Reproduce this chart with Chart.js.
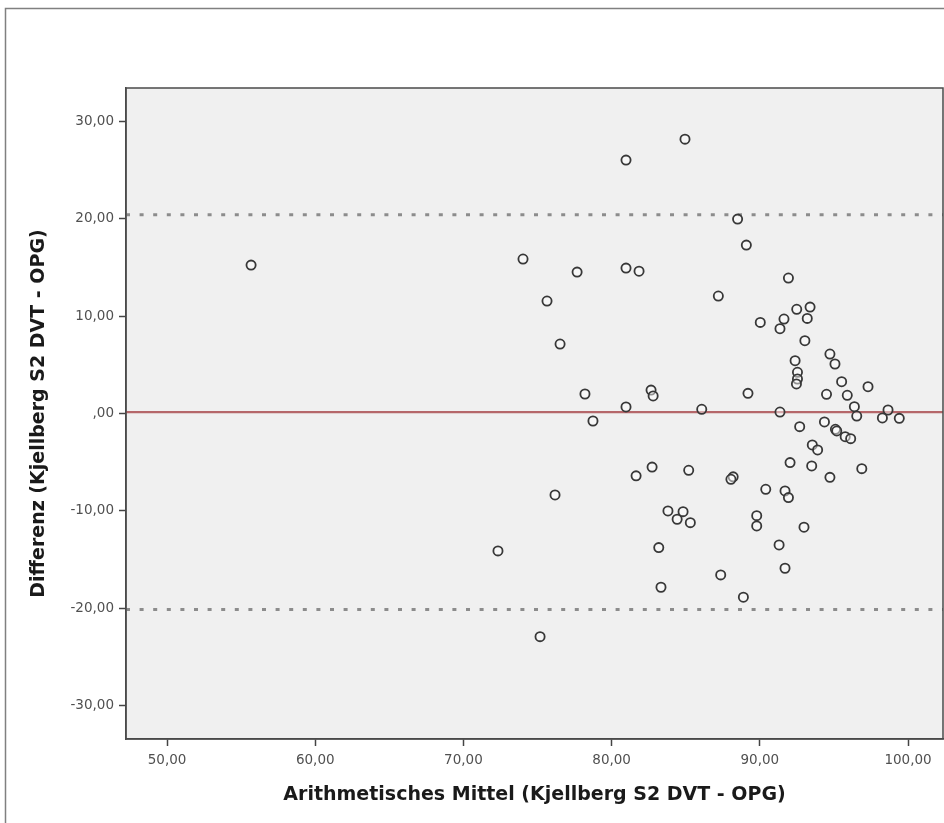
<!DOCTYPE html>
<html>
<head>
<meta charset="utf-8">
<script src="https://cdn.jsdelivr.net/npm/chart.js@4"></script>
<style>
  html, body { margin: 0; padding: 0; background: #fff; }
  #wrap { width: 944px; height: 823px; }
</style>
</head>
<body>
<div id="wrap"><canvas id="baChart" width="944" height="823"></canvas></div>
<script>
// Bland-Altman: Mittelwert vs. Differenz (Kjellberg S2 DVT - OPG)
const meanVals = [
  55.67, 74.02, 75.64, 77.67, 76.52, 78.20, 78.74, 76.18, 72.33, 75.17,
  80.97, 84.95, 80.97, 81.85, 80.97, 82.66, 82.80, 81.65, 82.73, 83.80,
  84.42, 84.82, 85.31, 83.18, 83.33, 85.20, 86.08, 87.20, 88.50, 89.09,
  91.93, 92.49, 93.39, 93.20, 90.03, 91.63, 91.36, 93.04, 94.73, 95.07,
  92.38, 92.54, 92.54, 92.47, 95.52, 97.30, 94.50, 95.90, 89.20, 96.38,
  96.54, 98.65, 98.27, 99.41, 91.36, 92.69, 94.36, 95.10, 95.19, 95.76,
  96.13, 93.54, 93.90, 92.04, 93.50, 94.73, 96.88, 88.20, 88.05, 90.40,
  91.70, 91.93, 89.79, 89.79, 92.98, 91.30, 91.70, 87.36, 88.89
];
const diffVals = [
  15.23, 15.85, 11.54, 14.51, 7.13, 2.00, -0.77, -8.36, -14.10, -22.90,
  26.00, 28.15, 14.92, 14.60, 0.67, 2.40, 1.80, -6.40, -5.50, -10.00,
  -10.85, -10.07, -11.20, -13.76, -17.83, -5.83, 0.43, 12.05, 19.95, 17.28,
  13.90, 10.69, 10.92, 9.76, 9.35, 9.69, 8.70, 7.47, 6.10, 5.08,
  5.42, 4.23, 3.54, 3.03, 3.26, 2.75, 1.97, 1.87, 2.07, 0.70,
  -0.26, 0.36, -0.46, -0.50, 0.15, -1.35, -0.87, -1.62, -1.79, -2.38,
  -2.58, -3.23, -3.74, -5.04, -5.38, -6.55, -5.66, -6.50, -6.75, -7.78,
  -7.95, -8.63, -10.48, -11.54, -11.67, -13.49, -15.88, -16.56, -18.85
];

// Mittlere Differenz und Übereinstimmungsgrenzen
const meanDiff = 0.15;
const upperLimit = 20.4;
const lowerLimit = -20.1;

const xTicks = [50, 60, 70, 80, 90, 100];
const yTicks = [-30, -20, -10, 0, 10, 20, 30];
const xMin = 47.23, xMax = 102.36;
const yMin = -33.4, yMax = 33.4;

const xTitle = 'Arithmetisches Mittel (Kjellberg S2 DVT - OPG)';
const yTitle = 'Differenz (Kjellberg S2 DVT - OPG)';

// SPSS-Format: 30,00 / ,00
function fmt(v) {
  if (v === 0) return ',00';
  return v.toFixed(2).replace('.', ',');
}

const points = meanVals.map((m, i) => ({ x: m, y: diffVals[i] }));
const hLine = y => [{ x: xMin, y: y }, { x: xMax, y: y }];

const frame = {
  id: 'frame',
  beforeDraw(chart) {
    const { ctx, chartArea: a, width, height } = chart;
    ctx.save();
    ctx.fillStyle = '#fff';
    ctx.fillRect(0, 0, width, height);
    // äußerer Rahmen
    ctx.strokeStyle = '#808080';
    ctx.lineWidth = 1.5;
    ctx.beginPath();
    ctx.moveTo(5.5, height);
    ctx.lineTo(5.5, 8.5);
    ctx.lineTo(width, 8.5);
    ctx.stroke();
    ctx.fillStyle = '#f0f0f0';
    ctx.fillRect(a.left, a.top, a.right - a.left, a.bottom - a.top);
    ctx.restore();
  },
  afterDraw(chart) {
    const { ctx, chartArea: a } = chart;
    ctx.save();
    ctx.strokeStyle = '#4a4a4a';
    ctx.lineWidth = 1.5;
    ctx.strokeRect(a.left, a.top, a.right - a.left, a.bottom - a.top);
    ctx.restore();
  }
};

new Chart(document.getElementById('baChart'), {
  type: 'scatter',
  data: {
    datasets: [
      {
        label: 'Punkte',
        data: points,
        pointRadius: 4.6,
        pointBorderWidth: 1.8,
        pointBorderColor: '#383838',
        pointBackgroundColor: 'rgba(255,255,255,0.45)',
        order: 1
      },
      {
        type: 'line',
        label: 'Mittelwert',
        data: hLine(meanDiff),
        borderColor: '#b5676a',
        borderWidth: 2.2,
        pointRadius: 0,
        order: 2
      },
      {
        type: 'line',
        label: 'Obere Grenze',
        data: hLine(upperLimit),
        borderColor: '#8c8c8c',
        borderWidth: 3,
        borderDash: [4, 9.6],
        pointRadius: 0,
        order: 3
      },
      {
        type: 'line',
        label: 'Untere Grenze',
        data: hLine(lowerLimit),
        borderColor: '#8c8c8c',
        borderWidth: 3,
        borderDash: [4, 9.6],
        pointRadius: 0,
        order: 3
      }
    ]
  },
  options: {
    responsive: false,
    animation: false,
    layout: { autoPadding: false, padding: { left: 0, top: 88, right: 1, bottom: 0 } },
    plugins: {
      legend: { display: false },
      tooltip: { enabled: false }
    },
    scales: {
      x: {
        type: 'linear',
        min: xMin,
        max: xMax,
        afterBuildTicks: s => { s.ticks = xTicks.map(v => ({ value: v })); },
        afterFit: s => { s.height = 84; s.paddingLeft = 0; s.paddingRight = 0; },
        grid: { drawOnChartArea: false, tickLength: 7, tickColor: '#444', tickWidth: 1.5 },
        border: { color: '#4a4a4a', width: 1.5 },
        ticks: {
          color: '#505050',
          padding: 6,
          font: { family: 'DejaVu Sans', size: 13.5 },
          callback: v => fmt(v)
        },
        title: {
          display: true,
          text: xTitle,
          color: '#1a1a1a',
          font: { family: 'DejaVu Sans', size: 19, weight: 'bold' },
          padding: { top: 0, bottom: 17 }
        }
      },
      y: {
        type: 'linear',
        min: yMin,
        max: yMax,
        afterBuildTicks: s => { s.ticks = yTicks.map(v => ({ value: v })); },
        afterFit: s => { s.width = 126; s.paddingTop = 0; s.paddingBottom = 0; },
        grid: { drawOnChartArea: false, tickLength: 7, tickColor: '#444', tickWidth: 1.5 },
        border: { color: '#4a4a4a', width: 1.5 },
        ticks: {
          color: '#505050',
          padding: 5,
          font: { family: 'DejaVu Sans', size: 13.5 },
          callback: v => fmt(v)
        },
        title: {
          display: true,
          text: yTitle,
          color: '#1a1a1a',
          font: { family: 'DejaVu Sans', size: 19, weight: 'bold' },
          padding: { top: 28, bottom: 0 }
        }
      }
    }
  },
  plugins: [frame]
});
</script>
</body>
</html>
